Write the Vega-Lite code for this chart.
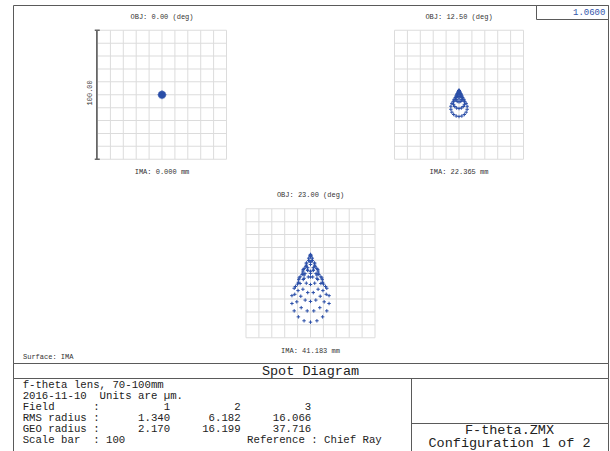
{
  "$schema": "https://vega.github.io/schema/vega-lite/v6.json",
  "padding": {"left": 12, "top": 4, "right": 0, "bottom": 0},
  "background": "white",
  "config": {"view": {"stroke": "#5a5a5a", "strokeWidth": 1}, "font": "Liberation Mono"},
  "datasets": {
    "panels": [
      {"f": "F1", "row": "R1", "obj": "OBJ: 0.00 (deg)", "ima": "IMA: 0.000 mm"},
      {"f": "F2", "row": "R1", "obj": "OBJ: 12.50 (deg)", "ima": "IMA: 22.365 mm"},
      {"f": "F3", "row": "R2", "obj": "OBJ: 23.00 (deg)", "ima": "IMA: 41.183 mm"}
    ],
    "bar": [
      {"f": "F1", "row": "R1", "e": 50, "label": "100.00"},
      {"f": "F1", "row": "R1", "e": -50, "label": "100.00"}
    ],
    "grid": [
      {"f":"F1","v":-50},{"f":"F1","v":-40},{"f":"F1","v":-30},{"f":"F1","v":-20},{"f":"F1","v":-10},{"f":"F1","v":0},{"f":"F1","v":10},{"f":"F1","v":20},{"f":"F1","v":30},{"f":"F1","v":40},{"f":"F1","v":50},
      {"f":"F2","v":-50},{"f":"F2","v":-40},{"f":"F2","v":-30},{"f":"F2","v":-20},{"f":"F2","v":-10},{"f":"F2","v":0},{"f":"F2","v":10},{"f":"F2","v":20},{"f":"F2","v":30},{"f":"F2","v":40},{"f":"F2","v":50},
      {"f":"F3","v":-50},{"f":"F3","v":-40},{"f":"F3","v":-30},{"f":"F3","v":-20},{"f":"F3","v":-10},{"f":"F3","v":0},{"f":"F3","v":10},{"f":"F3","v":20},{"f":"F3","v":30},{"f":"F3","v":40},{"f":"F3","v":50}
    ],
    "spots": [
      {"f":"F1","x":0,"y":0},
      {"f":"F1","x":0.7,"y":0},{"f":"F1","x":0.35,"y":0.61},{"f":"F1","x":-0.35,"y":0.61},{"f":"F1","x":-0.7,"y":0},{"f":"F1","x":-0.35,"y":-0.61},{"f":"F1","x":0.35,"y":-0.61},
      {"f":"F1","x":1.4,"y":0},{"f":"F1","x":0.7,"y":1.21},{"f":"F1","x":-0.7,"y":1.21},{"f":"F1","x":-1.4,"y":0},{"f":"F1","x":-0.7,"y":-1.21},{"f":"F1","x":0.7,"y":-1.21},
      {"f":"F1","x":2.1,"y":0},{"f":"F1","x":1.48,"y":1.48},{"f":"F1","x":0,"y":2.1},{"f":"F1","x":-1.48,"y":1.48},{"f":"F1","x":-2.1,"y":0},{"f":"F1","x":-1.48,"y":-1.48},{"f":"F1","x":0,"y":-2.1},{"f":"F1","x":1.48,"y":-1.48},
      {"f":"F1","x":1.66,"y":0.69},{"f":"F1","x":0.69,"y":1.66},{"f":"F1","x":-0.69,"y":1.66},{"f":"F1","x":-1.66,"y":0.69},{"f":"F1","x":-1.66,"y":-0.69},{"f":"F1","x":-0.69,"y":-1.66},{"f":"F1","x":0.69,"y":-1.66},{"f":"F1","x":1.66,"y":-0.69},

      {"f":"F2","x":0,"y":3.5},
      {"f":"F2","x":0,"y":2.93},{"f":"F2","x":0.15,"y":3.22},{"f":"F2","x":-0.15,"y":3.22},
      {"f":"F2","x":0,"y":1.23},{"f":"F2","x":0.62,"y":1.61},{"f":"F2","x":0.62,"y":2.37},{"f":"F2","x":0,"y":2.74},{"f":"F2","x":-0.62,"y":2.37},{"f":"F2","x":-0.62,"y":1.61},
      {"f":"F2","x":0,"y":-1.6},{"f":"F2","x":1.03,"y":-1.2},{"f":"F2","x":1.58,"y":-0.2},{"f":"F2","x":1.39,"y":0.95},{"f":"F2","x":0.55,"y":1.7},{"f":"F2","x":-0.55,"y":1.7},{"f":"F2","x":-1.39,"y":0.95},{"f":"F2","x":-1.58,"y":-0.2},{"f":"F2","x":-1.03,"y":-1.2},
      {"f":"F2","x":0,"y":-5.57},{"f":"F2","x":1.42,"y":-5.16},{"f":"F2","x":2.46,"y":-4.06},{"f":"F2","x":2.84,"y":-2.54},{"f":"F2","x":2.46,"y":-1.03},{"f":"F2","x":1.42,"y":0.07},{"f":"F2","x":0,"y":0.48},{"f":"F2","x":-1.42,"y":0.07},{"f":"F2","x":-2.46,"y":-1.03},{"f":"F2","x":-2.84,"y":-2.54},{"f":"F2","x":-2.46,"y":-4.06},{"f":"F2","x":-1.42,"y":-5.16},
      {"f":"F2","x":0,"y":-10.67},{"f":"F2","x":1.81,"y":-10.26},{"f":"F2","x":3.3,"y":-9.1},{"f":"F2","x":4.23,"y":-7.4},{"f":"F2","x":4.42,"y":-5.45},{"f":"F2","x":3.85,"y":-3.58},{"f":"F2","x":2.61,"y":-2.12},{"f":"F2","x":0.92,"y":-1.33},{"f":"F2","x":-0.92,"y":-1.33},{"f":"F2","x":-2.61,"y":-2.12},{"f":"F2","x":-3.85,"y":-3.58},{"f":"F2","x":-4.42,"y":-5.45},{"f":"F2","x":-4.23,"y":-7.4},{"f":"F2","x":-3.3,"y":-9.1},{"f":"F2","x":-1.81,"y":-10.26},
      {"f":"F2","x":0,"y":-16.9},{"f":"F2","x":2.19,"y":-16.49},{"f":"F2","x":4.12,"y":-15.31},{"f":"F2","x":5.54,"y":-13.5},{"f":"F2","x":6.3,"y":-11.28},{"f":"F2","x":6.3,"y":-8.92},{"f":"F2","x":5.54,"y":-6.7},{"f":"F2","x":4.12,"y":-4.89},{"f":"F2","x":2.19,"y":-3.71},{"f":"F2","x":0,"y":-3.3},{"f":"F2","x":-2.19,"y":-3.71},{"f":"F2","x":-4.12,"y":-4.89},{"f":"F2","x":-5.54,"y":-6.7},{"f":"F2","x":-6.3,"y":-8.92},{"f":"F2","x":-6.3,"y":-11.28},{"f":"F2","x":-5.54,"y":-13.5},{"f":"F2","x":-4.12,"y":-15.31},{"f":"F2","x":-2.19,"y":-16.49},

      {"f":"F3","x":0,"y":14.6},
      {"f":"F3","x":0,"y":13.14},{"f":"F3","x":0.35,"y":13.87},{"f":"F3","x":-0.35,"y":13.87},
      {"f":"F3","x":0,"y":8.77},{"f":"F3","x":1.4,"y":9.74},{"f":"F3","x":1.4,"y":11.68},{"f":"F3","x":0,"y":12.66},{"f":"F3","x":-1.4,"y":11.68},{"f":"F3","x":-1.4,"y":9.74},
      {"f":"F3","x":0,"y":1.48},{"f":"F3","x":2.35,"y":2.5},{"f":"F3","x":3.6,"y":5.09},{"f":"F3","x":3.16,"y":8.04},{"f":"F3","x":1.25,"y":9.96},{"f":"F3","x":-1.25,"y":9.96},{"f":"F3","x":-3.16,"y":8.04},{"f":"F3","x":-3.6,"y":5.09},{"f":"F3","x":-2.35,"y":2.5},
      {"f":"F3","x":1.7,"y":-2.89},{"f":"F3","x":4.3,"y":-0.28},{"f":"F3","x":4.89,"y":3.74},{"f":"F3","x":3.19,"y":7.26},{"f":"F3","x":0,"y":8.65},{"f":"F3","x":-3.19,"y":7.26},{"f":"F3","x":-4.89,"y":3.74},{"f":"F3","x":-4.3,"y":-0.28},{"f":"F3","x":-1.7,"y":-2.89},
      {"f":"F3","x":0,"y":-8.73},{"f":"F3","x":3.25,"y":-7.69},{"f":"F3","x":5.62,"y":-4.84},{"f":"F3","x":6.49,"y":-0.96},{"f":"F3","x":5.62,"y":2.93},{"f":"F3","x":3.25,"y":5.78},{"f":"F3","x":0,"y":6.82},{"f":"F3","x":-3.25,"y":5.78},{"f":"F3","x":-5.62,"y":2.93},{"f":"F3","x":-6.49,"y":-0.96},{"f":"F3","x":-5.62,"y":-4.84},{"f":"F3","x":-3.25,"y":-7.69},
      {"f":"F3","x":2.15,"y":-14.99},{"f":"F3","x":5.88,"y":-12.4},{"f":"F3","x":8.04,"y":-7.93},{"f":"F3","x":8.04,"y":-2.77},{"f":"F3","x":5.88,"y":1.7},{"f":"F3","x":2.15,"y":4.29},{"f":"F3","x":-2.15,"y":4.29},{"f":"F3","x":-5.88,"y":1.7},{"f":"F3","x":-8.04,"y":-2.77},{"f":"F3","x":-8.04,"y":-7.93},{"f":"F3","x":-5.88,"y":-12.4},{"f":"F3","x":-2.15,"y":-14.99},
      {"f":"F3","x":0,"y":-21.85},{"f":"F3","x":4.13,"y":-20.81},{"f":"F3","x":7.53,"y":-17.83},{"f":"F3","x":9.64,"y":-13.45},{"f":"F3","x":10.09,"y":-8.42},{"f":"F3","x":8.78,"y":-3.63},{"f":"F3","x":5.96,"y":0.13},{"f":"F3","x":2.11,"y":2.18},{"f":"F3","x":-2.11,"y":2.18},{"f":"F3","x":-5.96,"y":0.13},{"f":"F3","x":-8.78,"y":-3.63},{"f":"F3","x":-10.09,"y":-8.42},{"f":"F3","x":-9.64,"y":-13.45},{"f":"F3","x":-7.53,"y":-17.83},{"f":"F3","x":-4.13,"y":-20.81},
      {"f":"F3","x":2.55,"y":-29.18},{"f":"F3","x":7.21,"y":-26.69},{"f":"F3","x":10.62,"y":-22.15},{"f":"F3","x":12.2,"y":-16.34},{"f":"F3","x":11.66,"y":-10.26},{"f":"F3","x":9.11,"y":-4.97},{"f":"F3","x":4.99,"y":-1.36},{"f":"F3","x":0,"y":-0.1},{"f":"F3","x":-4.99,"y":-1.36},{"f":"F3","x":-9.11,"y":-4.97},{"f":"F3","x":-11.66,"y":-10.26},{"f":"F3","x":-12.2,"y":-16.34},{"f":"F3","x":-10.62,"y":-22.15},{"f":"F3","x":-7.21,"y":-26.69},{"f":"F3","x":-2.55,"y":-29.18},
      {"f":"F3","x":0,"y":-37.9},{"f":"F3","x":4.99,"y":-36.85},{"f":"F3","x":9.39,"y":-33.81},{"f":"F3","x":12.64,"y":-29.15},{"f":"F3","x":14.38,"y":-23.45},{"f":"F3","x":14.38,"y":-17.36},{"f":"F3","x":12.64,"y":-11.65},{"f":"F3","x":9.39,"y":-7.0},{"f":"F3","x":4.99,"y":-3.95},{"f":"F3","x":0,"y":-2.9},{"f":"F3","x":-4.99,"y":-3.95},{"f":"F3","x":-9.39,"y":-7.0},{"f":"F3","x":-12.64,"y":-11.65},{"f":"F3","x":-14.38,"y":-17.36},{"f":"F3","x":-14.38,"y":-23.45},{"f":"F3","x":-12.64,"y":-29.15},{"f":"F3","x":-9.39,"y":-33.81},{"f":"F3","x":-4.99,"y":-36.85}
    ],
    "hdr": [{"text": "Spot Diagram"}],
    "blank": [{"text": ""}],
    "notes": [
      {"line": 1, "text": "f-theta lens, 70-100mm"},
      {"line": 2, "text": "2016-11-10\u00a0\u00a0Units\u00a0are\u00a0µm."},
      {"line": 3, "text": "Field\u00a0\u00a0\u00a0\u00a0\u00a0\u00a0:\u00a0\u00a0\u00a0\u00a0\u00a0\u00a0\u00a0\u00a0\u00a0\u00a01\u00a0\u00a0\u00a0\u00a0\u00a0\u00a0\u00a0\u00a0\u00a0\u00a02\u00a0\u00a0\u00a0\u00a0\u00a0\u00a0\u00a0\u00a0\u00a0\u00a03"},
      {"line": 4, "text": "RMS\u00a0radius\u00a0:\u00a0\u00a0\u00a0\u00a0\u00a0\u00a01.340\u00a0\u00a0\u00a0\u00a0\u00a0\u00a06.182\u00a0\u00a0\u00a0\u00a0\u00a016.066"},
      {"line": 5, "text": "GEO\u00a0radius\u00a0:\u00a0\u00a0\u00a0\u00a0\u00a0\u00a02.170\u00a0\u00a0\u00a0\u00a0\u00a016.199\u00a0\u00a0\u00a0\u00a0\u00a037.716"},
      {"line": 6, "text": "Scale\u00a0bar\u00a0\u00a0:\u00a0100\u00a0\u00a0\u00a0\u00a0\u00a0\u00a0\u00a0\u00a0\u00a0\u00a0\u00a0\u00a0\u00a0\u00a0\u00a0\u00a0\u00a0\u00a0\u00a0Reference\u00a0:\u00a0Chief\u00a0Ray"}
    ],
    "file": [
      {"line": 1, "text": "F-theta.ZMX"},
      {"line": 2, "text": "Configuration\u00a01\u00a0of\u00a02"}
    ]
  },
  "spacing": 0,
  "bounds": "flush",
  "resolve": {"legend": {"color": "independent"}},
  "vconcat": [
    {
      "width": 595,
      "height": 358,
      "encoding": {
        "x": {"field": "f", "type": "nominal", "axis": null,
              "scale": {"type": "band", "domain": ["F1", "F3", "F2"], "paddingInner": 0.1313, "paddingOuter": 0.569}},
        "y": {"field": "row", "type": "nominal", "axis": null,
              "scale": {"type": "band", "domain": ["R1", "R2"], "paddingInner": 0.2773, "paddingOuter": 0.1415}}
      },
      "layer": [
        {
          "data": {"name": "grid"},
          "transform": [{"lookup": "f", "from": {"data": {"name": "panels"}, "key": "f", "fields": ["row"]}}],
          "mark": {"type": "tick", "orient": "vertical", "size": 129, "thickness": 1, "color": "#dcdcdc", "opacity": 1},
          "encoding": {"xOffset": {"field": "v", "type": "quantitative", "scale": {"domain": [-50, 50]}}}
        },
        {
          "data": {"name": "grid"},
          "transform": [{"lookup": "f", "from": {"data": {"name": "panels"}, "key": "f", "fields": ["row"]}}],
          "mark": {"type": "tick", "orient": "horizontal", "size": 129, "thickness": 1, "color": "#dcdcdc", "opacity": 1},
          "encoding": {"yOffset": {"field": "v", "type": "quantitative", "scale": {"domain": [-50, 50], "reverse": true}}}
        },
        {
          "data": {"name": "bar"},
          "mark": {"type": "tick", "orient": "vertical", "size": 129, "thickness": 1.5, "color": "#666666", "opacity": 1},
          "encoding": {"xOffset": {"datum": -50.6}}
        },
        {
          "data": {"name": "bar"},
          "mark": {"type": "tick", "orient": "horizontal", "size": 5, "thickness": 1.5, "color": "#666666", "opacity": 1},
          "encoding": {"xOffset": {"datum": -50.2}, "yOffset": {"field": "e", "type": "quantitative"}}
        },
        {
          "data": {"name": "bar"},
          "transform": [{"filter": "datum.e > 0"}],
          "mark": {"type": "text", "angle": 270, "fontSize": 7, "font": "Liberation Mono", "color": "#333333"},
          "encoding": {"xOffset": {"datum": -56}, "yOffset": {"datum": 1.5}, "text": {"field": "label"}}
        },
        {
          "data": {"name": "spots"},
          "transform": [{"lookup": "f", "from": {"data": {"name": "panels"}, "key": "f", "fields": ["row"]}}],
          "mark": {"type": "point", "shape": "M-1,0H1M0,-1V1", "filled": false, "size": 12, "strokeWidth": 1, "opacity": 1},
          "encoding": {
            "xOffset": {"field": "x", "type": "quantitative"},
            "yOffset": {"field": "y", "type": "quantitative"},
            "color": {"datum": "1.0600", "type": "nominal", "scale": {"range": ["#2b4fa8"]},
                      "legend": {"orient": "top-right", "offset": 0, "title": null, "strokeColor": "#5a5a5a", "fillColor": "white",
                                 "padding": 2, "labelFont": "Liberation Mono", "labelFontSize": 9, "labelColor": "#3355aa",
                                 "symbolType": "circle", "symbolSize": 8, "symbolFillColor": "#8899cc", "symbolStrokeWidth": 0,
                                 "symbolOffset": 8, "labelOffset": 18}}
          }
        },
        {
          "data": {"name": "panels"},
          "mark": {"type": "text", "fontSize": 7, "font": "Liberation Mono", "color": "#333333"},
          "encoding": {"yOffset": {"datum": 60.5}, "text": {"field": "obj"}}
        },
        {
          "data": {"name": "panels"},
          "mark": {"type": "text", "fontSize": 7, "font": "Liberation Mono", "color": "#333333"},
          "encoding": {"yOffset": {"datum": -60}, "text": {"field": "ima"}}
        }
      ]
    },
    {
      "spacing": 0,
      "bounds": "flush",
      "vconcat": [
        {
          "width": 595,
          "height": 15,
          "view": {"stroke": "#5a5a5a", "strokeWidth": 1},
          "title": {"text": "Surface: IMA", "anchor": "start", "fontSize": 7, "font": "Liberation Mono", "fontWeight": "normal", "color": "#333333", "dx": 10, "offset": 3},
          "data": {"name": "hdr"},
          "mark": {"type": "text", "fontSize": 13.5, "font": "Liberation Mono", "color": "#222222"},
          "encoding": {"text": {"field": "text"}}
        },
        {
          "spacing": 0,
          "bounds": "flush",
          "hconcat": [
            {
              "width": 398,
              "height": 74,
              "data": {"name": "notes"},
              "mark": {"type": "text", "align": "left", "fontSize": 10.7, "font": "Liberation Mono", "color": "#222222"},
              "encoding": {
                "x": {"datum": 1.5, "type": "quantitative", "axis": null, "scale": {"domain": [0, 62]}},
                "y": {"field": "line", "type": "ordinal", "axis": null, "scale": {"type": "point", "padding": 0.8636, "align": 0.368}},
                "text": {"field": "text"}
              }
            },
            {
              "spacing": 0,
              "bounds": "flush",
              "vconcat": [
                {
                  "width": 197,
                  "height": 45,
                  "view": {"stroke": "#5a5a5a", "strokeWidth": 1},
                  "data": {"name": "blank"},
                  "mark": {"type": "text"},
                  "encoding": {"text": {"field": "text"}}
                },
                {
                  "width": 197,
                  "height": 29,
                  "data": {"name": "file"},
                  "mark": {"type": "text", "fontSize": 13.5, "font": "Liberation Mono", "color": "#222222"},
                  "encoding": {
                    "y": {"field": "line", "type": "ordinal", "axis": null, "scale": {"type": "point", "padding": 0.574, "align": 0.45}},
                    "text": {"field": "text"}
                  }
                }
              ]
            }
          ]
        }
      ]
    }
  ]
}
